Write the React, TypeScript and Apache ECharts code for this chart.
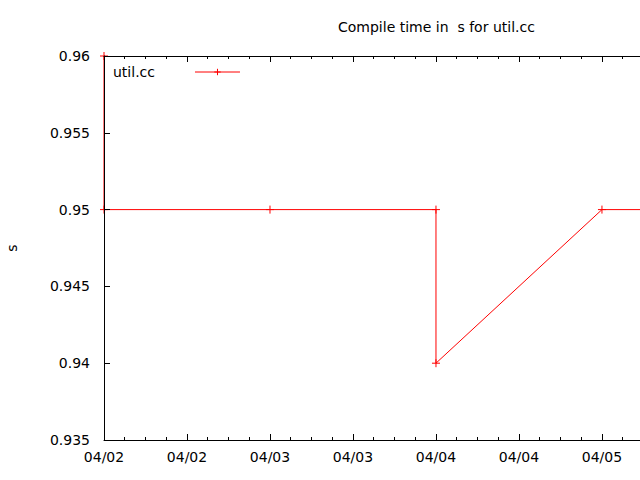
import React, { useEffect, useRef } from "react";
import * as echarts from "echarts";

const H = 3600 * 1000;
const T0 = Date.UTC(2011, 3, 2, 0, 0);

const seriesName = "util.cc";
const timesHours = [0, 0, 24, 48, 48, 72, 96];
const values = [0.96, 0.95, 0.95, 0.95, 0.94, 0.95, 0.95];
const yTicks = [0.935, 0.94, 0.945, 0.95, 0.955, 0.96];

const pad = (n: number) => (n < 10 ? "0" + n : "" + n);
const fmtDate = (v: number) => {
  const d = new Date(v);
  return pad(d.getUTCMonth() + 1) + "/" + pad(d.getUTCDate());
};

export default function App() {
  const ref = useRef<HTMLDivElement>(null);
  useEffect(() => {
    if (!ref.current) return;
    const chart = echarts.init(ref.current, undefined, { renderer: "svg" });
    const font = "DejaVu Sans";
    const xMin = T0;
    const xMax = T0 + 77.5 * H;
    const data = timesHours.map((h, i) => [T0 + h * H, values[i]]);
    const axisCommon = {
      type: "value" as const,
      min: xMin,
      max: xMax,
      interval: 12 * H,
      z: 10,
      axisLine: { show: true, lineStyle: { color: "#000", width: 1 } },
      axisTick: { show: true, inside: true, length: 6, lineStyle: { color: "#000" } },
      minorTick: { show: true, splitNumber: 4, length: 3, lineStyle: { color: "#000" } },
      splitLine: { show: false },
    };
    chart.setOption({
      animation: false,
      backgroundColor: "#fff",
      textStyle: { fontFamily: font },
      title: {
        text: "Compile time in  s for util.cc",
        left: 333,
        top: 15,
        textStyle: { fontFamily: font, fontSize: 14, fontWeight: "normal", color: "#000" },
      },
      legend: {
        left: 108,
        top: 60,
        align: "right",
        itemWidth: 45,
        itemHeight: 8,
        data: [{ name: seriesName }],
        lineStyle: { width: 1 },
        itemStyle: { color: "rgba(0,0,0,0)", borderColor: "#ff0000", borderWidth: 1 },
        textStyle: {
          fontFamily: font,
          fontSize: 14,
          color: "#000",
          padding: [0, 35, 0, 0],
        },
      },
      grid: {
        left: 104,
        right: 0,
        top: 56,
        bottom: 40,
        containLabel: false,
        outerBoundsMode: "none",
      },
      xAxis: [
        {
          ...axisCommon,
          position: "bottom",
          axisLabel: {
            show: true,
            margin: 10,
            showMaxLabel: false,
            color: "#000",
            fontFamily: font,
            fontSize: 14,
            formatter: (v: number) => fmtDate(v),
          },
        },
        {
          ...axisCommon,
          position: "top",
          axisLabel: { show: false },
        },
      ],
      yAxis: {
        type: "value",
        min: yTicks[0],
        max: yTicks[yTicks.length - 1],
        interval: 0.005,
        z: 10,
        name: "s",
        nameLocation: "middle",
        nameGap: 85,
        nameTextStyle: { fontFamily: font, fontSize: 14, color: "#000" },
        axisLine: { show: true, lineStyle: { color: "#000", width: 1 } },
        axisTick: { show: true, inside: true, length: 6, lineStyle: { color: "#000" } },
        splitLine: { show: false },
        axisLabel: {
          margin: 14,
          color: "#000",
          fontFamily: font,
          fontSize: 14,
          formatter: (v: number) => String(+v.toFixed(3)),
        },
      },
      series: [
        {
          name: seriesName,
          type: "line",
          z: 1,
          xAxisIndex: 0,
          data,
          clip: true,
          symbol: "path://M5,0L5,10M0,5L10,5",
          symbolSize: 8,
          showAllSymbol: true,
          itemStyle: { color: "rgba(0,0,0,0)", borderColor: "#ff0000", borderWidth: 1 },
          lineStyle: { color: "#ff0000", width: 1 },
          emphasis: { disabled: true },
        },
      ],
    });
    return () => chart.dispose();
  }, []);
  return (
    <div
      ref={ref}
      style={{ position: "fixed", left: 0, top: 0, width: 640, height: 480 }}
    />
  );
}
